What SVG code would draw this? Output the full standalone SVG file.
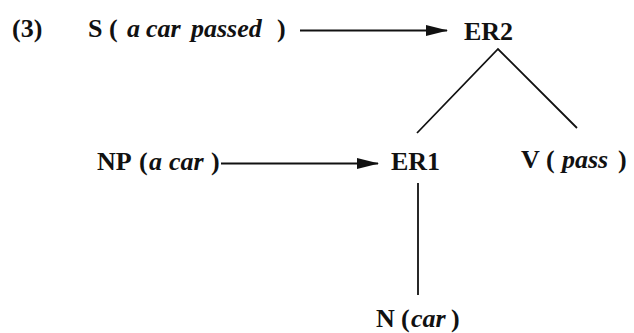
<svg xmlns="http://www.w3.org/2000/svg" width="634" height="333" viewBox="0 0 634 333">
  <style>
    .t { font-family: "Times New Roman", Times, "Liberation Serif", "DejaVu Serif", serif; font-size: 26px; font-weight: 700; fill: #111; }
    .it { font-style: italic; }
    .edge { stroke: #111; stroke-width: 2; fill: none; }
    .tree { stroke: #111; stroke-width: 1.8; fill: none; }
  </style>
  <defs>
    <marker id="arrow" markerUnits="userSpaceOnUse" markerWidth="22" markerHeight="12" refX="21" refY="6" orient="auto">
      <path d="M0,0.5 L22,6 L0,11.5 Z" fill="#111"/>
    </marker>
  </defs>

  <!-- example number -->
  <g id="label">
    <text class="t" x="12" y="37">(3)</text>
  </g>

  <g id="node-s">
    <text class="t" y="37"><tspan x="88">S</tspan><tspan x="109">(</tspan><tspan class="it" x="127">a</tspan><tspan class="it" x="146">car</tspan><tspan class="it" x="191">passed</tspan><tspan x="277">)</tspan></text>
  </g>
  <g id="node-er2">
    <text class="t" x="464" y="40">ER2</text>
  </g>
  <g id="node-np">
    <text class="t" y="170"><tspan x="97">NP</tspan><tspan x="139">(</tspan><tspan class="it" x="149">a</tspan><tspan class="it" x="169">car</tspan><tspan x="211">)</tspan></text>
  </g>
  <g id="node-er1">
    <text class="t" x="391" y="170">ER1</text>
  </g>
  <g id="node-v">
    <text class="t" y="168"><tspan x="521">V</tspan><tspan x="546">(</tspan><tspan class="it" x="562">pass</tspan><tspan x="618">)</tspan></text>
  </g>
  <g id="node-n">
    <text class="t" y="327"><tspan x="376">N</tspan><tspan x="401">(</tspan><tspan class="it" x="411">car</tspan><tspan x="451">)</tspan></text>
  </g>

  <g id="connectors">
    <line class="edge" x1="221" y1="163.5" x2="378" y2="163.5" marker-end="url(#arrow)"/>
    <line class="edge" x1="300" y1="30.5" x2="447" y2="30.5" marker-end="url(#arrow)"/>
    <polyline class="tree" points="417,133 498,49 577,128"/>
    <line class="tree" x1="418" y1="183" x2="418" y2="295"/>
  </g>
</svg>
